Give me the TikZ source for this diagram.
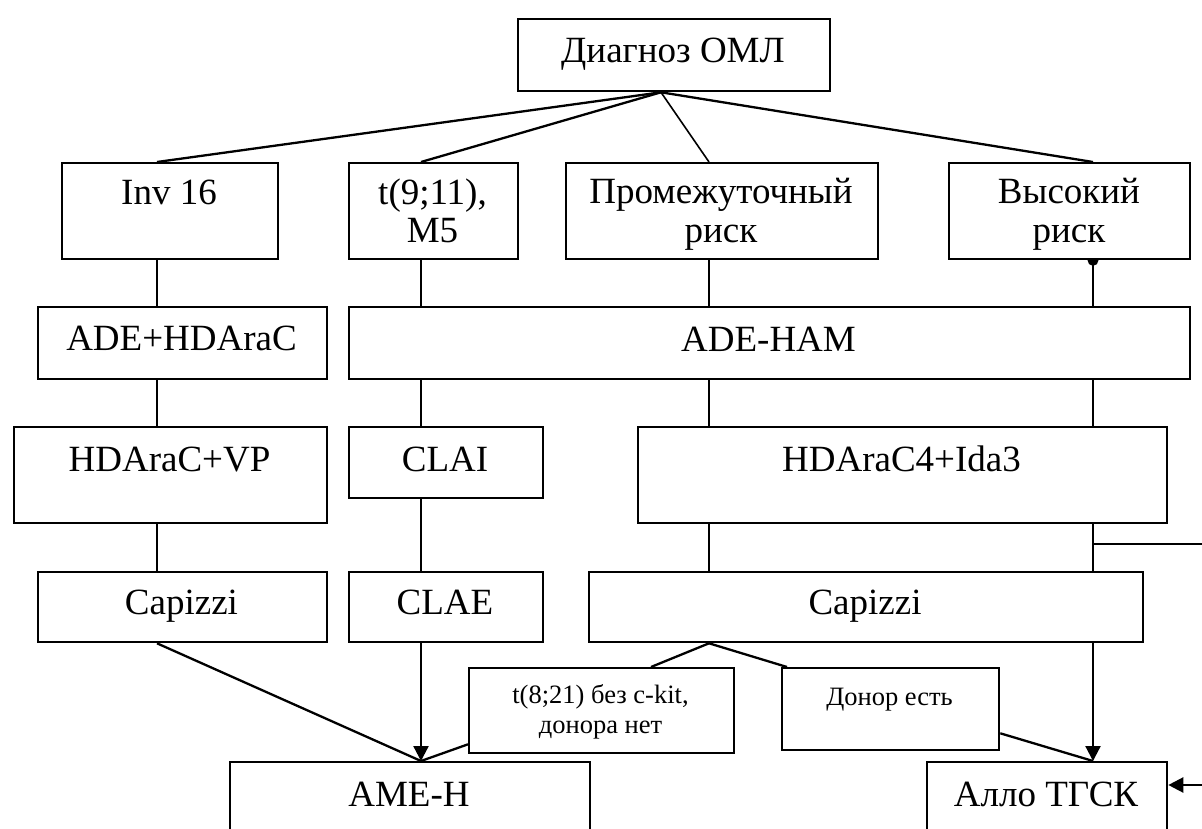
\documentclass[tikz,border=0pt]{standalone}
\usepackage{fontspec}
\setmainfont{Liberation Serif}
\usetikzlibrary{arrows.meta,backgrounds}
\begin{document}
\begin{tikzpicture}[x=1pt,y=-1pt,
  box/.style={draw, line width=2.3pt, fill=white, inner sep=0pt, anchor=north west},
  txt/.style={inner sep=0pt, anchor=base, font=\fontsize{37pt}{42pt}\selectfont},
  stxt/.style={inner sep=0pt, anchor=base, font=\fontsize{26.5pt}{30pt}\selectfont},
  conn/.style={line width=2.3pt},
  thinconn/.style={line width=1.6pt},
  arr/.style={line width=2.3pt, -{Triangle[length=15pt,width=15pt]}}]
\useasboundingbox (0,0) rectangle (1202,829);
\clip (0,0) rectangle (1202,829);
% boxes
\node[box, minimum width=312pt, minimum height=72pt] (diag) at (517,18) {};
\node[box, minimum width=216pt, minimum height=96pt] (inv) at (61,162) {};
\node[box, minimum width=169pt, minimum height=96pt] (t911) at (348,162) {};
\node[box, minimum width=312pt, minimum height=96pt] (prom) at (565,162) {};
\node[box, minimum width=241pt, minimum height=96pt] (hi) at (948,162) {};
\node[box, minimum width=289pt, minimum height=72pt] (adeh) at (37,306) {};
\node[box, minimum width=841pt, minimum height=72pt] (adeham) at (348,306) {};
\node[box, minimum width=313pt, minimum height=96pt] (hdvp) at (13,426) {};
\node[box, minimum width=194pt, minimum height=71pt] (clai) at (348,426) {};
\node[box, minimum width=529pt, minimum height=96pt] (hd4) at (637,426) {};
\node[box, minimum width=289pt, minimum height=70pt] (capl) at (37,571) {};
\node[box, minimum width=194pt, minimum height=70pt] (clae) at (348,571) {};
\node[box, minimum width=554pt, minimum height=70pt] (capr) at (588,571) {};
\node[box, minimum width=265pt, minimum height=85pt] (t821) at (468,667) {};
\node[box, minimum width=217pt, minimum height=82pt] (donor) at (781,667) {};
\node[box, minimum width=360pt, minimum height=109pt] (ame) at (229,761) {};
\node[box, minimum width=240pt, minimum height=109pt] (allo) at (926,761) {};
% texts
\node[txt] (tdiag) at (673,63) {Диагноз ОМЛ};
\node[txt] (tinv) at (169,205) {Inv 16};
\node[txt] (tt911a) at (432.5,205) {t(9;11),};
\node[txt] (tt911b) at (432.5,243) {M5};
\node[txt] (tproma) at (721,204) {Промежуточный};
\node[txt] (tpromb) at (721,243) {риск};
\node[txt] (thia) at (1069,204) {Высокий};
\node[txt] (thib) at (1069,243) {риск};
\node[txt] (tadeh) at (181.5,350) {ADE+HDAraC};
\node[txt] (tadeham) at (768.5,351) {ADE-HAM};
\node[txt] (thdvp) at (169.5,471) {HDAraC+VP};
\node[txt] (tclai) at (445,471) {CLAI};
\node[txt] (thd4) at (901.5,471) {HDAraC4+Ida3};
\node[txt] (tcapl) at (181.5,614) {Capizzi};
\node[txt] (tclae) at (445,614) {CLAE};
\node[txt] (tcapr) at (865,614) {Capizzi};
\node[stxt] (tt821a) at (600.5,703) {t(8;21) без c-kit,};
\node[stxt] (tt821b) at (600.5,733) {донора нет};
\node[stxt] (tdonor) at (889.5,705) {Донор есть};
\node[txt] (tame) at (409,806) {AME-H};
\node[txt] (tallo) at (1046,806) {Алло ТГСК};
% column coordinates
\coordinate (ap) at (661,0);
\coordinate (c1) at (157,0);
\coordinate (c2) at (421,0);
\coordinate (c3) at (709,0);
\coordinate (c4) at (1093,0);
\coordinate (ct) at (651,0);
\coordinate (cd) at (787,0);
\coordinate (e1) at (1202,544);
\coordinate (e2) at (1202,785);
\begin{pgfonlayer}{background}
\draw[conn] (diag.south -| ap) -- (inv.north -| c1);
\draw[conn] (diag.south -| ap) -- (t911.north -| c2);
\draw[thinconn] (diag.south -| ap) -- (prom.north -| c3);
\draw[conn] (diag.south -| ap) -- (hi.north -| c4);
% column 1
\draw[conn] (inv.south -| c1) -- (adeh.north -| c1);
\draw[conn] (adeh.south -| c1) -- (hdvp.north -| c1);
\draw[conn] (hdvp.south -| c1) -- (capl.north -| c1);
\draw[conn] (capl.south -| c1) -- (ame.north -| c2);
% column 2
\draw[conn] (t911.south -| c2) -- (adeham.north -| c2);
\draw[conn] (adeham.south -| c2) -- (clai.north -| c2);
\draw[conn] (clai.south -| c2) -- (clae.north -| c2);
\draw[arr] (clae.south -| c2) -- (ame.north -| c2);
% column 3
\draw[conn] (prom.south -| c3) -- (adeham.north -| c3);
\draw[conn] (adeham.south -| c3) -- (hd4.north -| c3);
\draw[conn] (hd4.south -| c3) -- (capr.north -| c3);
\draw[conn] (capr.south -| c3) -- (t821.north -| ct);
\draw[conn] (capr.south -| c3) -- (donor.north -| cd);
\draw[conn] ([yshift=10pt]t821.south west) -- (ame.north -| c2);
\draw[conn] ([yshift=18pt]donor.south east) -- (allo.north -| c4);
% column 4
\fill (hi.south -| c4) circle (5.5pt);
\draw[conn] (hi.south -| c4) -- (adeham.north -| c4);
\draw[conn] (adeham.south -| c4) -- (hd4.north -| c4);
\draw[conn] (hd4.south -| c4) -- (capr.north -| c4);
\draw[conn] (e1 -| c4) -- (e1);
\draw[arr] (capr.south -| c4) -- (allo.north -| c4);
\draw[arr] (e2) -- (allo.east |- e2);
\end{pgfonlayer}
\end{tikzpicture}
\end{document}
